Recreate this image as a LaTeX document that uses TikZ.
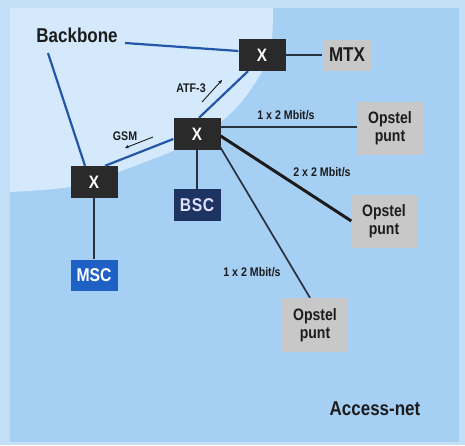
\documentclass[tikz,border=0pt]{standalone}
\usepackage{fontspec}
\setmainfont{Liberation Sans}[FakeStretch=0.85]
\usetikzlibrary{arrows.meta,calc}

\definecolor{framebg}{HTML}{C4E0F8}
\definecolor{accessbg}{HTML}{A6CFF4}
\definecolor{backbonebg}{HTML}{D4E9FB}
\definecolor{switchfill}{HTML}{2B2A2A}
\definecolor{termfill}{HTML}{C8C8C8}
\definecolor{bscfill}{HTML}{1D3462}
\definecolor{mscfill}{HTML}{1F60C4}
\definecolor{bbblue}{HTML}{2356A8}
\definecolor{linkdark}{HTML}{283241}
\definecolor{inkdark}{HTML}{1C1C1C}

\begin{document}
\begin{tikzpicture}[x=1pt,y=-1pt,
  every node/.style={inner sep=0pt},
  switchbox/.style={fill=switchfill, minimum width=47pt, minimum height=32pt,
    text=white, font=\bfseries\fontsize{18}{18}\selectfont},
  termbox/.style={fill=termfill, minimum width=65pt, minimum height=53pt,
    text=inkdark, align=center, font=\bfseries\fontsize{16.5}{18}\selectfont},
  ctrlbox/.style={minimum width=47pt, minimum height=32pt,
    font=\bfseries\fontsize{18.5}{18.5}\selectfont},
  biglabel/.style={text=inkdark, font=\bfseries\fontsize{20}{20}\selectfont},
  ratelabel/.style={text=inkdark, font=\bfseries\fontsize{12.5}{12.5}\selectfont},
  bbline/.style={draw=bbblue, line width=2.2pt},
  accline/.style={draw=linkdark, line width=1.7pt},
  heavyline/.style={draw=inkdark, line width=3pt},
  dirarrow/.style={draw=inkdark, line width=0.9pt, -{Stealth[length=4pt,width=3.5pt]}}
]
\useasboundingbox (0,0) rectangle (465,445);

% background panels: frame, access network, backbone area
\fill[framebg] (0,0) rectangle (465,445);
\fill[accessbg] (10,8) rectangle (459,442);
\fill[backbonebg] (10,8) -- (273,8) -- plot[smooth, tension=0.55] coordinates
  {(273,8) (271,50) (260,75) (238,106) (210,130) (175,150) (150,160)
   (118,172) (70,187) (10,192)}
  -- cycle;

% switches
\node[switchbox] (tx) at (262,55) {X};
\node[switchbox] (mx) at (197,134) {X};
\node[switchbox] (lx) at (94,182) {X};

% terminal equipment
\node[termbox, minimum width=49pt, minimum height=31pt,
  font=\bfseries\fontsize{20}{20}\selectfont] (mtx) at (347,55) {MTX};
\node[termbox] (o1) at (390,128) {Opstel\\punt};
\node[termbox] (o2) at (384,221) {Opstel\\punt};
\node[termbox, minimum width=66pt, minimum height=54pt] (o3) at (315,325) {Opstel\\punt};
\node[ctrlbox, fill=bscfill, text=white!88!blue] (bsc) at (197,205) {B\kern0.6pt S\kern0.6pt C};
\node[ctrlbox, fill=mscfill, minimum height=31pt, text=white] (msc) at (94,275) {MSC};

% labels
\node[biglabel] (bbtext) at (77,35) {Backbone};
\node[biglabel] (acctext) at (375,409) {Access-net};
\node[ratelabel] (atf) at (191,88) {ATF-3};
\node[ratelabel] (gsm) at (125,136) {GSM};
\node[ratelabel] (r1) at (286,115) {1 x 2 Mbit/s};
\node[ratelabel] (r2) at (322,172) {2 x 2 Mbit/s};
\node[ratelabel] (r3) at (252,272) {1 x 2 Mbit/s};

% free ends of the backbone links
\coordinate (bbA) at (125,43);
\coordinate (bbB) at (48,53);

% backbone links
\draw[bbline] (bbA) -- ([yshift=4pt]tx.west);
\draw[bbline] (bbB) -- ([xshift=-9pt]lx.north);
\draw[bbline] ([xshift=-14pt]tx.south) -- ([xshift=2pt]mx.north);
\draw[bbline] ([yshift=-5pt]mx.west) -- ([xshift=11pt]lx.north);

% access links
\draw[accline] (tx.east) -- (mtx.west);
\draw[accline] ([yshift=7pt]mx.east) -- ([yshift=1pt]o1.west);
\draw[heavyline] ([yshift=-2pt]mx.east) -- (o2.west);
\draw[accline] ([yshift=4pt,xshift=-1pt]mx.south east) -- ([xshift=-5pt]o3.north);
\draw[accline] (mx.south) -- (bsc.north);
\draw[accline] (lx.south) -- (msc.north);

% direction markers
\coordinate (atfS) at (202,102);
\coordinate (atfE) at (222,80);
\coordinate (gsmS) at (153,137);
\coordinate (gsmE) at (125,148);
\draw[dirarrow] (atfS) -- (atfE);
\draw[dirarrow] (gsmS) -- (gsmE);
\end{tikzpicture}
\end{document}
